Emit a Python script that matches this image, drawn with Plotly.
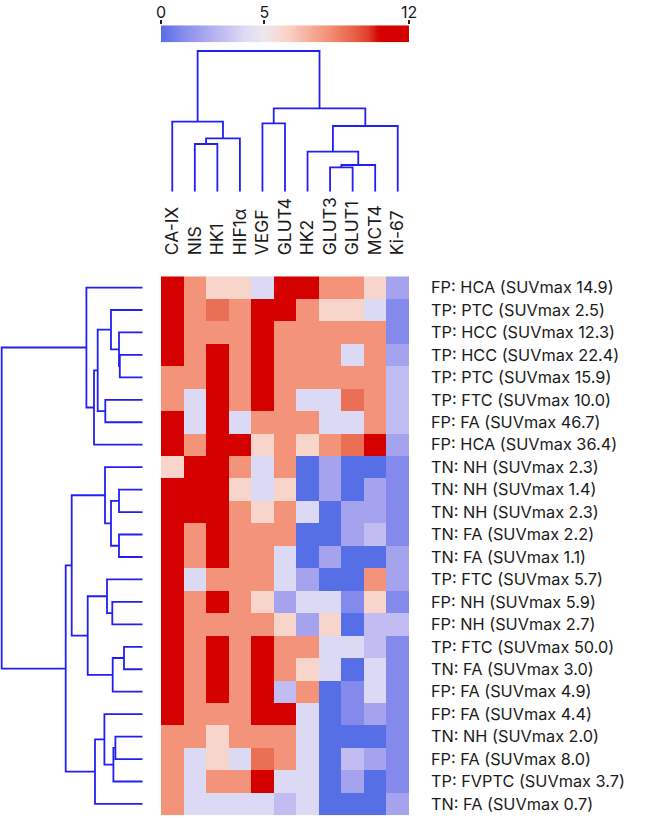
import numpy as np
import plotly.graph_objects as go

# ---------------- data ----------------
markers = ["CA-IX", "NIS", "HK1", "HIF1α", "VEGF", "GLUT4", "HK2", "GLUT3", "GLUT1", "MCT4", "Ki-67"]

cases = [
    "FP: HCA (SUVmax 14.9)", "TP: PTC (SUVmax 2.5)", "TP: HCC (SUVmax 12.3)", "TP: HCC (SUVmax 22.4)",
    "TP: PTC (SUVmax 15.9)", "TP: FTC (SUVmax 10.0)", "FP: FA (SUVmax 46.7)", "FP: HCA (SUVmax 36.4)",
    "TN: NH (SUVmax 2.3)", "TN: NH (SUVmax 1.4)", "TN: NH (SUVmax 2.3)", "TN: FA (SUVmax 2.2)",
    "TN: FA (SUVmax 1.1)", "TP: FTC (SUVmax 5.7)", "FP: NH (SUVmax 5.9)", "FP: NH (SUVmax 2.7)",
    "TP: FTC (SUVmax 50.0)", "TN: FA (SUVmax 3.0)", "FP: FA (SUVmax 4.9)", "FP: FA (SUVmax 4.4)",
    "TN: NH (SUVmax 2.0)", "FP: FA (SUVmax 8.0)", "TP: FVPTC (SUVmax 3.7)", "TN: FA (SUVmax 0.7)",
]

# IHC scores (rows = cases, columns = markers)
scores = [
    [12, 8, 6, 6, 4, 12, 12, 8, 8, 6, 2],
    [12, 8, 9, 8, 12, 12, 8, 6, 6, 4, 1],
    [12, 8, 8, 8, 12, 8, 8, 8, 8, 8, 1],
    [12, 8, 12, 8, 12, 8, 8, 8, 4, 8, 2],
    [8, 8, 12, 8, 12, 8, 8, 8, 8, 8, 3],
    [8, 4, 12, 8, 12, 8, 4, 4, 9, 8, 3],
    [12, 4, 12, 4, 8, 8, 8, 4, 4, 8, 3],
    [12, 8, 12, 12, 6, 8, 6, 8, 9, 12, 2],
    [6, 12, 12, 8, 4, 8, 0, 2, 0, 0, 1],
    [12, 12, 12, 6, 4, 6, 0, 2, 0, 2, 1],
    [12, 12, 12, 8, 6, 8, 4, 0, 2, 2, 1],
    [12, 8, 12, 8, 8, 8, 0, 0, 2, 3, 1],
    [12, 8, 12, 8, 8, 4, 0, 2, 0, 0, 2],
    [12, 4, 8, 8, 8, 4, 2, 0, 0, 8, 2],
    [12, 8, 12, 8, 6, 2, 4, 4, 1, 6, 1],
    [12, 8, 8, 8, 8, 6, 2, 6, 0, 3, 3],
    [12, 8, 12, 8, 12, 8, 8, 4, 4, 3, 1],
    [12, 8, 12, 8, 12, 8, 6, 4, 0, 4, 1],
    [12, 8, 12, 8, 12, 3, 8, 0, 1, 4, 1],
    [12, 8, 8, 8, 12, 12, 4, 0, 1, 2, 1],
    [8, 8, 6, 8, 8, 8, 4, 0, 0, 0, 1],
    [8, 4, 6, 4, 9, 8, 4, 0, 3, 2, 1],
    [8, 4, 8, 8, 12, 4, 4, 0, 2, 0, 1],
    [8, 4, 4, 4, 4, 3, 4, 0, 0, 0, 2],
]

# column dendrogram: (child a, child b, merge height)
col_merges = [
    ("NIS", "HK1", 4.77),        # c0
    ("c0", "HIF1α", 5.34),       # c1
    ("CA-IX", "c1", 7.00),       # c2
    ("VEGF", "GLUT4", 6.84),     # c3
    ("GLUT3", "GLUT1", 2.44),    # c4
    ("c4", "MCT4", 2.67),        # c5
    ("HK2", "c5", 4.00),         # c6
    ("c6", "Ki-67", 6.57),       # c7
    ("c3", "c7", 8.34),          # c8
    ("c2", "c8", 14.07),         # c9 (root)
]

# row dendrogram: leaves are row indices "r0".."r23"
row_merges = [
    ("r3", "r4", 2.29),     # c0
    ("r2", "c0", 2.37),     # c1
    ("r1", "c1", 3.17),     # c2
    ("r5", "r6", 3.74),     # c3
    ("c2", "c3", 4.50),     # c4
    ("c4", "r7", 4.87),     # c5
    ("r0", "c5", 5.63),     # c6
    ("r9", "r10", 2.37),    # c7
    ("r11", "r12", 2.37),   # c8
    ("c7", "c8", 3.17),     # c9
    ("r8", "c9", 3.77),     # c10
    ("r14", "r15", 3.04),   # c11
    ("r13", "c11", 3.57),   # c12
    ("r16", "r17", 1.87),   # c13
    ("c13", "r18", 3.00),   # c14
    ("c12", "c14", 5.50),   # c15
    ("c10", "c15", 7.10),   # c16
    ("r20", "r21", 2.73),   # c17
    ("c17", "r22", 2.93),   # c18
    ("r19", "c18", 3.83),   # c19
    ("c19", "r23", 4.77),   # c20
    ("c16", "c20", 7.70),   # c21
    ("c6", "c21", 14.10),   # c22 (root)
]

colorbar_ticks = [0, 5, 12]

# ---------------- helpers ----------------
def dendro_segments(merges, leaf_pos):
    pos = dict(leaf_pos)
    hgt = {k: 0.0 for k in leaf_pos}
    P, H = [], []
    for i, (a, b, h) in enumerate(merges):
        pa, pb = pos[a], pos[b]
        P += [pa, pa, pb, pb, None]
        H += [hgt[a], h, h, hgt[b], None]
        name = "c%d" % i
        pos[name] = (pa + pb) / 2.0
        hgt[name] = h
    return P, H


W, Hh = 645, 818
def px_x(v):
    return v / W
def px_y(v):
    return 1 - v / Hh

hm_x = [px_x(161), px_x(409)]
hm_y = [px_y(815.2), px_y(276.3)]

font_family = "Inter, 'Liberation Sans', Arial, sans-serif"
txt_color = "#1a1a1a"
line_color = "#2020f2"

cscale = [
    [0 / 12, "#566ee6"],
    [1 / 12, "#8489ec"],
    [2 / 12, "#a5a3ee"],
    [3 / 12, "#c1bdf3"],
    [4 / 12, "#dcd9f4"],
    [5 / 12, "#ece9ee"],
    [6 / 12, "#f8d5ca"],
    [7 / 12, "#f6b5a2"],
    [8 / 12, "#f3937a"],
    [9 / 12, "#eb6f55"],
    [10 / 12, "#e0412f"],
    [10.6 / 12, "#d40000"],
    [12 / 12, "#d40000"],
]

fig = go.Figure()

# heatmap
fig.add_trace(go.Heatmap(
    z=scores, x=list(range(len(markers))), y=list(range(len(cases))),
    coloraxis="coloraxis", xgap=0, ygap=0, hoverinfo="skip",
    xaxis="x", yaxis="y",
))

# top dendrogram
cx, cy = dendro_segments(col_merges, {m: i for i, m in enumerate(markers)})
fig.add_trace(go.Scatter(x=cx, y=cy, mode="lines", line=dict(color=line_color, width=1.8),
                         xaxis="x2", yaxis="y2", hoverinfo="skip", showlegend=False))

# left dendrogram
rp, rh = dendro_segments(row_merges, {"r%d" % i: i for i in range(len(cases))})
fig.add_trace(go.Scatter(x=rh, y=rp, mode="lines", line=dict(color=line_color, width=1.8),
                         xaxis="x3", yaxis="y3", hoverinfo="skip", showlegend=False))

# color legend strip
levels = np.linspace(0, 12, 241)
fig.add_trace(go.Heatmap(z=[levels], x=levels, y=[0], coloraxis="coloraxis",
                         xaxis="x4", yaxis="y4", hoverinfo="skip"))

fig.update_layout(
    width=W, height=Hh,
    margin=dict(l=0, r=0, t=0, b=0),
    paper_bgcolor="white", plot_bgcolor="white",
    font=dict(family=font_family, color=txt_color, size=16.3),
    showlegend=False,
    coloraxis=dict(colorscale=cscale, cmin=0, cmax=12, showscale=False),
    xaxis=dict(domain=hm_x, range=[-0.5, len(markers) - 0.5], side="top", anchor="y",
               tickmode="array", tickvals=list(range(len(markers))), ticktext=markers,
               tickangle=-90, ticks="", ticklabelstandoff=20, showgrid=False, zeroline=False,
               showline=False, automargin=False, tickfont=dict(size=17.5)),
    yaxis=dict(domain=hm_y, range=[len(cases) - 0.5, -0.5], side="right", anchor="x",
               tickmode="array", tickvals=list(range(len(cases))), ticktext=cases,
               ticks="", ticklabelstandoff=21, showgrid=False, zeroline=False,
               showline=False, automargin=False, tickfont=dict(size=16.3)),
    xaxis2=dict(domain=hm_x, range=[-0.5, len(markers) - 0.5], anchor="y2", visible=False),
    yaxis2=dict(domain=[px_y(191.7), px_y(48.7)], range=[0, 14.3], anchor="x2", visible=False),
    xaxis3=dict(domain=[0, px_x(142.7)], range=[14.27, 0], anchor="y3", visible=False),
    yaxis3=dict(domain=hm_y, range=[len(cases) - 0.5, -0.5], anchor="x3", visible=False),
    xaxis4=dict(domain=hm_x, range=[0, 12], side="top", anchor="y4",
                tickmode="array", tickvals=colorbar_ticks, ticks="outside", ticklen=4,
                tickwidth=2, tickcolor="#222", showgrid=False, zeroline=False,
                showline=False, automargin=False, ticklabelstandoff=-4,
                tickfont=dict(size=16)),
    yaxis4=dict(domain=[px_y(42.3), px_y(25.3)], range=[-0.5, 0.5], anchor="x4", visible=False),
)

fig.write_html(
    "out.html",
    config={"displayModeBar": False},
    post_script="document.body.style.margin='0';document.body.style.overflow='hidden';",
)
